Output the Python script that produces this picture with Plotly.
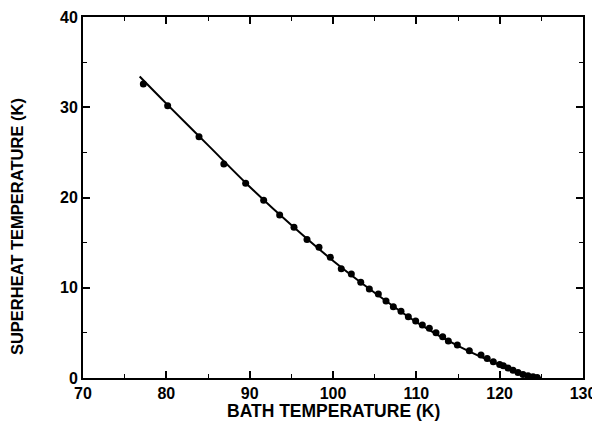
import plotly.graph_objects as go

# measured data points
bath_T = [77.24, 80.16, 83.92, 86.9, 89.52, 91.68, 93.60, 95.32, 96.88, 98.32,
          99.68, 100.99, 102.20, 103.33, 104.36, 105.44, 106.36, 107.24, 108.16, 109.04,
          109.92, 110.72, 111.56, 112.36, 113.16, 113.84, 114.92, 116.36, 117.76, 118.5,
          119.24, 120.0, 120.44, 121.0, 121.6, 122.2, 122.8, 123.4, 124.0, 124.5]
superheat_T = [32.58, 30.17, 26.74, 23.71, 21.57, 19.69, 18.06, 16.69, 15.36, 14.48,
               13.37, 12.11, 11.52, 10.60, 9.86, 9.31, 8.53, 7.90, 7.39, 6.79,
               6.32, 5.87, 5.51, 5.02, 4.58, 4.10, 3.66, 3.02, 2.55, 2.15,
               1.81, 1.5, 1.36, 1.1, 0.85, 0.6, 0.4, 0.25, 0.15, 0.05]

# fitted curve
fit_x = [76.8, 80, 85, 90, 95, 100, 105, 110, 115, 120, 123, 125]
fit_y = [33.4, 30.4, 25.8, 21.2, 16.95, 13.0, 9.45, 6.2, 3.55, 1.45, 0.45, 0.0]

x_ticks = [70, 80, 90, 100, 110, 120, 130]
y_ticks = [0, 10, 20, 30, 40]
x_title = "BATH TEMPERATURE (K)"
y_title = "SUPERHEAT TEMPERATURE (K)"

fig = go.Figure()
fig.add_trace(go.Scatter(x=fit_x, y=fit_y, mode="lines", line=dict(color="black", width=2, shape="spline"),
                         hoverinfo="skip", showlegend=False))
fig.add_trace(go.Scatter(x=bath_T, y=superheat_T, mode="markers",
                         marker=dict(color="black", size=7), showlegend=False))

FAM = "Liberation Sans, Arial, sans-serif"
axis_common = dict(showline=True, linecolor="black", linewidth=2, mirror="allticks",
                   ticks="inside", ticklen=7, tickwidth=1.5, tickcolor="black",
                   showgrid=False, zeroline=False, automargin=False,
                   tickfont=dict(family=FAM, size=16, color="black", weight="bold"),
                   minor=dict(ticks="inside", ticklen=4, tickwidth=1, tickcolor="black", dtick=5, showgrid=False))

fig.update_xaxes(range=[70, 130], tickvals=x_ticks, ticktext=[str(v) for v in x_ticks], **axis_common)
fig.update_yaxes(range=[0, 40], tickvals=y_ticks, ticktext=[str(v) for v in y_ticks], **axis_common)

fig.add_annotation(text=x_title, xref="paper", yref="paper", x=0.5, y=0, xanchor="center", yanchor="middle",
                   yshift=-33, showarrow=False, font=dict(family=FAM, size=17.5, color="black", weight="bold"))
fig.add_annotation(text=y_title, xref="paper", yref="paper", x=0, y=0.418, xanchor="center", yanchor="middle",
                   xshift=-66, textangle=-90, showarrow=False,
                   font=dict(family=FAM, size=16.5, color="black", weight="bold"))

fig.update_layout(width=592, height=431, margin=dict(l=75, r=17, t=9, b=61),
                  paper_bgcolor="white", plot_bgcolor="white")
fig.write_html("out.html")
